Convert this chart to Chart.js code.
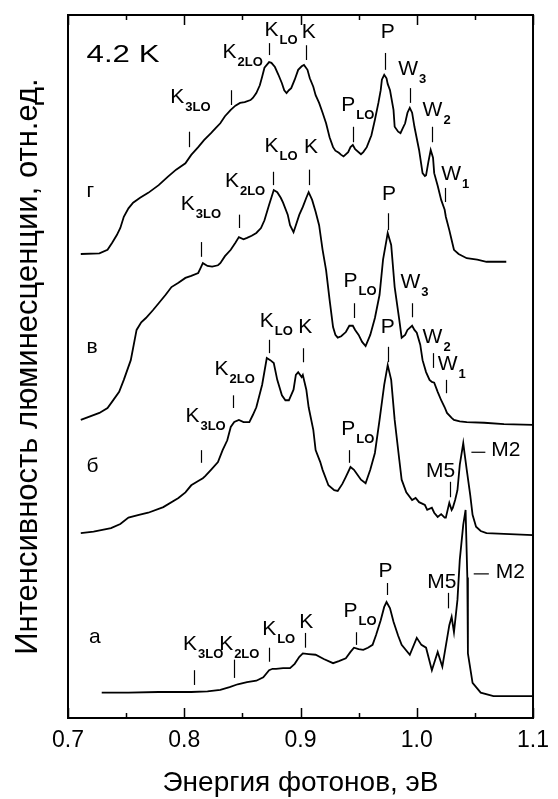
<!DOCTYPE html>
<html>
<head>
<meta charset="utf-8">
<script src="https://cdn.jsdelivr.net/npm/chart.js@4.4.1/dist/chart.umd.min.js"></script>
<style>
  html, body { margin: 0; padding: 0; background: #fff; }
  canvas { display: block; }
</style>
</head>
<body>
<canvas id="spectra" width="558" height="799"></canvas>
<script>
'use strict';

// Photon energy axis (eV)
const xTickValues = [0.7, 0.8, 0.9, 1.0, 1.1];
const xMinorTicks = [0.75, 0.85, 0.95, 1.05];

// Spectra: [energy eV, intensity arb. units incl. vertical offset]
const spectrumA = [
  [0.729, 3.6], [0.752, 3.6], [0.778, 3.7], [0.806, 3.7], [0.820, 3.8], [0.831, 4.0], [0.839, 4.4],
  [0.846, 4.8], [0.854, 5.1], [0.862, 5.3], [0.868, 5.8], [0.873, 6.8], [0.876, 7.0], [0.879, 7.0],
  [0.885, 7.1], [0.891, 7.1], [0.895, 7.7], [0.899, 8.7], [0.902, 9.2], [0.907, 9.1], [0.913, 9.0],
  [0.920, 8.4], [0.928, 7.8], [0.933, 8.1], [0.939, 8.5], [0.943, 9.4], [0.946, 10.0], [0.950, 9.8],
  [0.954, 9.7], [0.958, 10.0], [0.962, 10.4], [0.965, 11.8], [0.969, 13.9], [0.972, 15.8], [0.974, 16.5],
  [0.977, 15.6], [0.980, 13.7], [0.984, 11.7], [0.987, 10.4], [0.994, 9.0], [1.000, 11.4], [1.004, 10.4],
  [1.008, 10.0], [1.013, 6.8], [1.018, 9.4], [1.022, 7.3], [1.028, 13.2], [1.030, 14.4], [1.032, 12.2],
  [1.035, 16.8], [1.037, 22.5], [1.040, 27.5], [1.042, 29.6], [1.0435, 20.0], [1.044, 9.2], [1.048, 5.0],
  [1.055, 3.6], [1.066, 3.1], [1.083, 3.1], [1.100, 3.1]
];

const spectrumB = [
  [0.711, 26.3], [0.722, 26.5], [0.737, 27.0], [0.745, 27.6], [0.752, 28.5], [0.761, 28.9], [0.769, 29.2],
  [0.782, 30.0], [0.795, 31.3], [0.801, 32.1], [0.806, 33.1], [0.812, 33.7], [0.816, 34.1], [0.818, 34.4],
  [0.823, 35.3], [0.829, 36.4], [0.833, 38.1], [0.837, 39.5], [0.840, 41.4], [0.843, 42.1], [0.847, 42.4],
  [0.851, 42.1], [0.856, 42.1], [0.859, 43.1], [0.862, 44.2], [0.867, 47.4], [0.871, 51.2], [0.874, 50.9],
  [0.877, 50.5], [0.880, 48.1], [0.884, 45.9], [0.887, 45.2], [0.890, 45.2], [0.894, 46.7], [0.896, 48.8],
  [0.898, 49.2], [0.901, 48.5], [0.902, 48.8], [0.905, 46.7], [0.907, 44.2], [0.911, 41.0], [0.913, 38.1],
  [0.917, 36.4], [0.919, 35.3], [0.924, 33.1], [0.929, 32.4], [0.932, 32.3], [0.936, 33.3], [0.939, 34.3],
  [0.943, 35.7], [0.946, 35.3], [0.949, 34.6], [0.952, 33.9], [0.956, 33.4], [0.960, 35.3], [0.964, 37.7],
  [0.968, 42.4], [0.972, 47.4], [0.975, 50.2], [0.978, 48.1], [0.981, 42.4], [0.985, 36.7], [0.987, 33.9],
  [0.991, 32.1], [0.996, 31.0], [0.999, 31.3], [1.002, 30.7], [1.007, 30.3], [1.009, 29.6], [1.013, 29.9],
  [1.015, 29.2], [1.018, 28.6], [1.021, 29.0], [1.024, 28.5], [1.025, 28.5], [1.028, 30.6], [1.030, 29.6],
  [1.031, 29.9], [1.033, 31.0], [1.035, 32.4], [1.037, 36.0], [1.040, 39.1], [1.041, 37.8], [1.043, 35.3],
  [1.046, 31.7], [1.048, 28.9], [1.051, 27.2], [1.055, 26.6], [1.060, 26.3], [1.075, 26.2], [1.100, 26.0]
];

const spectrumV = [
  [0.711, 42.4], [0.727, 43.4], [0.734, 44.1], [0.738, 45.0], [0.744, 46.4], [0.748, 48.1], [0.754, 50.9],
  [0.759, 55.2], [0.763, 56.3], [0.767, 56.9], [0.773, 58.0], [0.778, 59.0], [0.784, 60.2], [0.789, 61.3],
  [0.795, 61.9], [0.801, 62.6], [0.806, 62.9], [0.812, 63.3], [0.814, 64.0], [0.816, 64.7], [0.820, 64.3],
  [0.824, 64.2], [0.829, 64.4], [0.831, 64.7], [0.835, 65.7], [0.840, 66.6], [0.844, 67.6], [0.847, 68.4],
  [0.851, 68.1], [0.854, 68.3], [0.858, 68.6], [0.862, 69.0], [0.866, 69.7], [0.869, 70.8], [0.873, 73.0],
  [0.877, 75.1], [0.880, 74.8], [0.883, 74.0], [0.885, 73.3], [0.889, 71.6], [0.891, 70.1], [0.894, 69.1],
  [0.896, 70.1], [0.899, 71.6], [0.902, 72.7], [0.905, 74.0], [0.907, 74.8], [0.910, 73.7], [0.913, 72.0],
  [0.916, 70.1], [0.919, 66.6], [0.922, 63.7], [0.925, 59.5], [0.928, 55.6], [0.930, 54.5], [0.932, 54.1],
  [0.935, 54.3], [0.939, 54.9], [0.942, 55.8], [0.945, 55.8], [0.947, 55.2], [0.950, 54.5], [0.953, 53.5],
  [0.956, 52.9], [0.960, 54.5], [0.964, 56.9], [0.968, 60.2], [0.971, 65.2], [0.974, 68.0], [0.975, 69.0],
  [0.978, 67.3], [0.981, 61.3], [0.985, 56.6], [0.987, 54.1], [0.990, 54.5], [0.992, 55.2], [0.996, 55.8],
  [0.998, 55.2], [1.000, 54.8], [1.003, 53.1], [1.005, 50.9], [1.008, 49.2], [1.011, 48.1], [1.013, 47.8],
  [1.015, 47.7], [1.018, 46.4], [1.021, 45.2], [1.024, 44.2], [1.026, 43.4], [1.030, 42.7], [1.032, 42.4],
  [1.037, 42.2], [1.043, 42.1], [1.058, 42.0], [1.075, 41.8], [1.100, 41.7]
];

const spectrumG = [
  [0.711, 66.0], [0.727, 66.1], [0.734, 66.6], [0.738, 67.6], [0.742, 68.7], [0.745, 69.7], [0.748, 71.3],
  [0.752, 72.5], [0.756, 73.3], [0.762, 74.0], [0.769, 74.7], [0.778, 75.8], [0.786, 77.0], [0.793, 78.0],
  [0.801, 78.9], [0.806, 80.1], [0.812, 81.2], [0.817, 82.2], [0.823, 83.2], [0.827, 83.9], [0.831, 84.6],
  [0.835, 85.6], [0.840, 86.5], [0.844, 87.1], [0.848, 87.5], [0.852, 87.6], [0.857, 87.9], [0.859, 88.2],
  [0.862, 88.9], [0.865, 90.0], [0.867, 91.2], [0.869, 92.5], [0.873, 93.3], [0.875, 93.2], [0.878, 92.6],
  [0.881, 91.5], [0.884, 90.3], [0.886, 89.3], [0.888, 88.9], [0.890, 89.3], [0.892, 89.6], [0.895, 90.8],
  [0.898, 92.2], [0.901, 92.7], [0.903, 92.9], [0.906, 92.2], [0.908, 91.0], [0.911, 89.8], [0.913, 88.6],
  [0.916, 87.5], [0.919, 86.1], [0.922, 84.6], [0.925, 82.6], [0.928, 81.2], [0.930, 80.7], [0.933, 80.4],
  [0.935, 80.1], [0.937, 79.9], [0.941, 80.5], [0.943, 81.2], [0.945, 81.5], [0.947, 80.9], [0.952, 80.2],
  [0.954, 80.5], [0.957, 81.2], [0.961, 82.9], [0.964, 85.1], [0.967, 87.5], [0.969, 89.3], [0.970, 90.8],
  [0.972, 91.5], [0.974, 91.0], [0.975, 90.2], [0.977, 89.3], [0.980, 86.5], [0.981, 84.1], [0.984, 83.4],
  [0.986, 83.2], [0.988, 83.9], [0.990, 84.6], [0.992, 86.1], [0.994, 86.8], [0.996, 86.1], [0.998, 84.1],
  [1.002, 80.8], [1.005, 77.5], [1.007, 77.1], [1.008, 77.2], [1.010, 79.1], [1.012, 80.8], [1.014, 79.7],
  [1.015, 77.5], [1.018, 75.7], [1.021, 73.7], [1.024, 72.3], [1.025, 71.3], [1.028, 69.4], [1.030, 68.0],
  [1.032, 66.6], [1.036, 66.0], [1.043, 65.4], [1.052, 65.2], [1.060, 64.9], [1.069, 64.9], [1.077, 64.9]
];

// Line assignments: label, subscript, energy of the tick, tick span, text anchor (eV, intensity)
const annotations = [
  // г
  { t: 'K', s: '3LO', x: 0.804, y: [81.2, 83.4], tx: 0.788, ty: 87.5 },
  { t: 'K', s: '2LO', x: 0.840, y: [87.2, 89.3], tx: 0.833, ty: 93.9 },
  { t: 'K', s: 'LO', x: 0.873, y: [94.3, 96.0], tx: 0.869, ty: 97.0 },
  { t: 'K', s: '', x: 0.905, y: [93.6, 95.7], tx: 0.901, ty: 96.7 },
  { t: 'P', s: 'LO', x: 0.945, y: [81.9, 84.1], tx: 0.935, ty: 86.3 },
  { t: 'P', s: '', x: 0.973, y: [92.2, 94.6], tx: 0.969, ty: 96.7 },
  { t: 'W', s: '3', x: 0.994, y: [87.5, 89.6], tx: 0.984, ty: 91.5 },
  { t: 'W', s: '2', x: 1.013, y: [81.9, 84.1], tx: 1.005, ty: 85.6 },
  { t: 'W', s: '1', x: 1.024, y: [73.4, 75.4], tx: 1.021, ty: 76.6 },
  // в
  { t: 'K', s: '3LO', x: 0.814, y: [65.6, 67.7], tx: 0.797, ty: 72.3 },
  { t: 'K', s: '2LO', x: 0.847, y: [69.7, 71.6], tx: 0.835, ty: 75.5 },
  { t: 'K', s: 'LO', x: 0.876, y: [75.8, 77.7], tx: 0.869, ty: 80.5 },
  { t: 'K', s: '', x: 0.907, y: [75.8, 78.0], tx: 0.903, ty: 80.4 },
  { t: 'P', s: 'LO', x: 0.946, y: [56.9, 59.0], tx: 0.937, ty: 61.3 },
  { t: 'P', s: '', x: 0.975, y: [69.4, 71.8], tx: 0.970, ty: 73.7 },
  { t: 'W', s: '3', x: 0.996, y: [57.0, 59.0], tx: 0.986, ty: 61.2 },
  { t: 'W', s: '2', x: 1.014, y: [49.8, 51.9], tx: 1.005, ty: 53.3 },
  { t: 'W', s: '1', x: 1.025, y: [46.2, 48.1], tx: 1.018, ty: 49.5 },
  // б
  { t: 'K', s: '3LO', x: 0.814, y: [36.3, 38.1], tx: 0.801, ty: 42.1 },
  { t: 'K', s: '2LO', x: 0.842, y: [44.1, 45.9], tx: 0.826, ty: 48.8 },
  { t: 'K', s: 'LO', x: 0.873, y: [51.9, 53.8], tx: 0.865, ty: 55.6 },
  { t: 'K', s: '', x: 0.902, y: [50.6, 52.6], tx: 0.898, ty: 54.8 },
  { t: 'P', s: 'LO', x: 0.942, y: [36.3, 38.1], tx: 0.935, ty: 40.3 },
  { t: 'P', s: '', x: 0.975, y: [50.6, 52.8], tx: 0.969, ty: 54.8 },
  { t: 'M5', s: '', x: 1.029, y: [31.4, 33.6], tx: 1.008, ty: 34.3 },
  { t: 'M2', s: '', dash: [1.047, 1.059, 37.8], tx: 1.064, ty: 37.3 },
  // а
  { t: 'K', s: '3LO', x: 0.808, y: [4.7, 6.8], tx: 0.799, ty: 9.7 },
  { t: 'K', s: '2LO', x: 0.843, y: [5.7, 8.3], tx: 0.830, ty: 9.7 },
  { t: 'K', s: 'LO', x: 0.873, y: [8.0, 10.0], tx: 0.867, ty: 11.8 },
  { t: 'K', s: '', x: 0.904, y: [10.0, 12.1], tx: 0.899, ty: 12.8 },
  { t: 'P', s: 'LO', x: 0.948, y: [10.4, 12.2], tx: 0.937, ty: 14.4 },
  { t: 'P', s: '', x: 0.974, y: [17.5, 19.2], tx: 0.967, ty: 20.1 },
  { t: 'M5', s: '', x: 1.027, y: [15.6, 17.8], tx: 1.009, ty: 18.5 },
  { t: 'M2', s: '', dash: [1.049, 1.062, 20.5], tx: 1.068, ty: 19.9 }
];

// Curve names and the temperature note
const curveLabels = [
  { t: 'г', tx: 0.716, ty: 74.1 },
  { t: 'в', tx: 0.716, ty: 51.9 },
  { t: 'б', tx: 0.716, ty: 35.0 },
  { t: 'а', tx: 0.718, ty: 10.7 }
];
const tempNote = { t: '4.2 K', tx: 0.716, ty: 93.3 };

const FONT = "'Liberation Sans', Arial, sans-serif";
Chart.defaults.font.family = FONT;
Chart.defaults.color = '#000';

function toPoints(pairs) {
  return pairs.map(p => ({ x: p[0], y: p[1] }));
}

// frame, inward ticks and all the labels inside the plot
const overlayPlugin = {
  id: 'overlay',
  afterDraw(chart) {
    const { ctx, chartArea: area, scales: { x, y } } = chart;
    ctx.save();
    ctx.strokeStyle = '#000';
    ctx.fillStyle = '#000';

    ctx.lineWidth = 2;
    ctx.strokeRect(area.left, area.top, area.right - area.left, area.bottom - area.top);

    ctx.lineWidth = 1.5;
    ctx.beginPath();
    xTickValues.concat(xMinorTicks).forEach(v => {
      const len = xTickValues.includes(v) ? 10 : 5;
      const px = Math.round(x.getPixelForValue(v)) + 0.5;
      ctx.moveTo(px, area.bottom); ctx.lineTo(px, area.bottom - len);
      ctx.moveTo(px, area.top); ctx.lineTo(px, area.top + len);
    });
    ctx.stroke();

    ctx.lineWidth = 1.2;
    ctx.textAlign = 'left';
    ctx.textBaseline = 'alphabetic';
    annotations.forEach(a => {
      ctx.beginPath();
      if (a.dash) {
        const dy = y.getPixelForValue(a.dash[2]);
        ctx.moveTo(x.getPixelForValue(a.dash[0]), dy);
        ctx.lineTo(x.getPixelForValue(a.dash[1]), dy);
      } else {
        const px = Math.round(x.getPixelForValue(a.x)) + 0.5;
        ctx.moveTo(px, y.getPixelForValue(a.y[0]));
        ctx.lineTo(px, y.getPixelForValue(a.y[1]));
      }
      ctx.stroke();

      const tx = x.getPixelForValue(a.tx);
      const ty = y.getPixelForValue(a.ty);
      ctx.font = '21px ' + FONT;
      ctx.fillText(a.t, tx, ty);
      if (a.s) {
        const w = ctx.measureText(a.t).width;
        ctx.font = 'bold 13px ' + FONT;
        ctx.fillText(a.s, tx + w + 1, ty + 8);
      }
    });

    ctx.font = '21px ' + FONT;
    curveLabels.forEach(c => {
      ctx.fillText(c.t, x.getPixelForValue(c.tx), y.getPixelForValue(c.ty));
    });

    // the temperature note is set in a wide face in the original
    ctx.font = '24px ' + FONT;
    ctx.translate(x.getPixelForValue(tempNote.tx), y.getPixelForValue(tempNote.ty));
    ctx.scale(1.3, 1);
    ctx.fillText(tempNote.t, 0, 0);
    ctx.restore();
  }
};

const lineStyle = {
  borderColor: '#000',
  borderWidth: 1.8,
  pointRadius: 0,
  tension: 0,
  fill: false
};

new Chart(document.getElementById('spectra'), {
  type: 'line',
  data: {
    datasets: [
      Object.assign({ label: 'а', data: toPoints(spectrumA) }, lineStyle),
      Object.assign({ label: 'б', data: toPoints(spectrumB) }, lineStyle),
      Object.assign({ label: 'в', data: toPoints(spectrumV) }, lineStyle),
      Object.assign({ label: 'г', data: toPoints(spectrumG) }, lineStyle)
    ]
  },
  options: {
    responsive: false,
    animation: false,
    devicePixelRatio: 1,
    layout: { padding: { top: 15, right: 18, left: 0, bottom: 0 } },
    plugins: {
      legend: { display: false },
      tooltip: { enabled: false }
    },
    scales: {
      x: {
        type: 'linear',
        min: 0.7,
        max: 1.1,
        grid: { display: false, drawTicks: false },
        border: { display: false },
        afterBuildTicks: scale => { scale.ticks = xTickValues.map(v => ({ value: v })); },
        afterFit: scale => { scale.height = 81; },
        ticks: {
          padding: 9,
          font: { size: 23 },
          callback: v => v.toFixed(1)
        },
        title: {
          display: true,
          text: 'Энергия фотонов, эВ',
          font: { size: 28 },
          padding: { top: 0, bottom: -1 }
        }
      },
      y: {
        min: 0,
        max: 100,
        grid: { display: false, drawTicks: false },
        border: { display: false },
        ticks: { display: false },
        afterFit: scale => { scale.width = 68; },
        title: {
          display: true,
          text: 'Интенсивность люминесценции, отн.ед.',
          font: { size: 31 },
          padding: { top: 10, bottom: 0 }
        }
      }
    }
  },
  plugins: [overlayPlugin]
});
</script>
</body>
</html>
